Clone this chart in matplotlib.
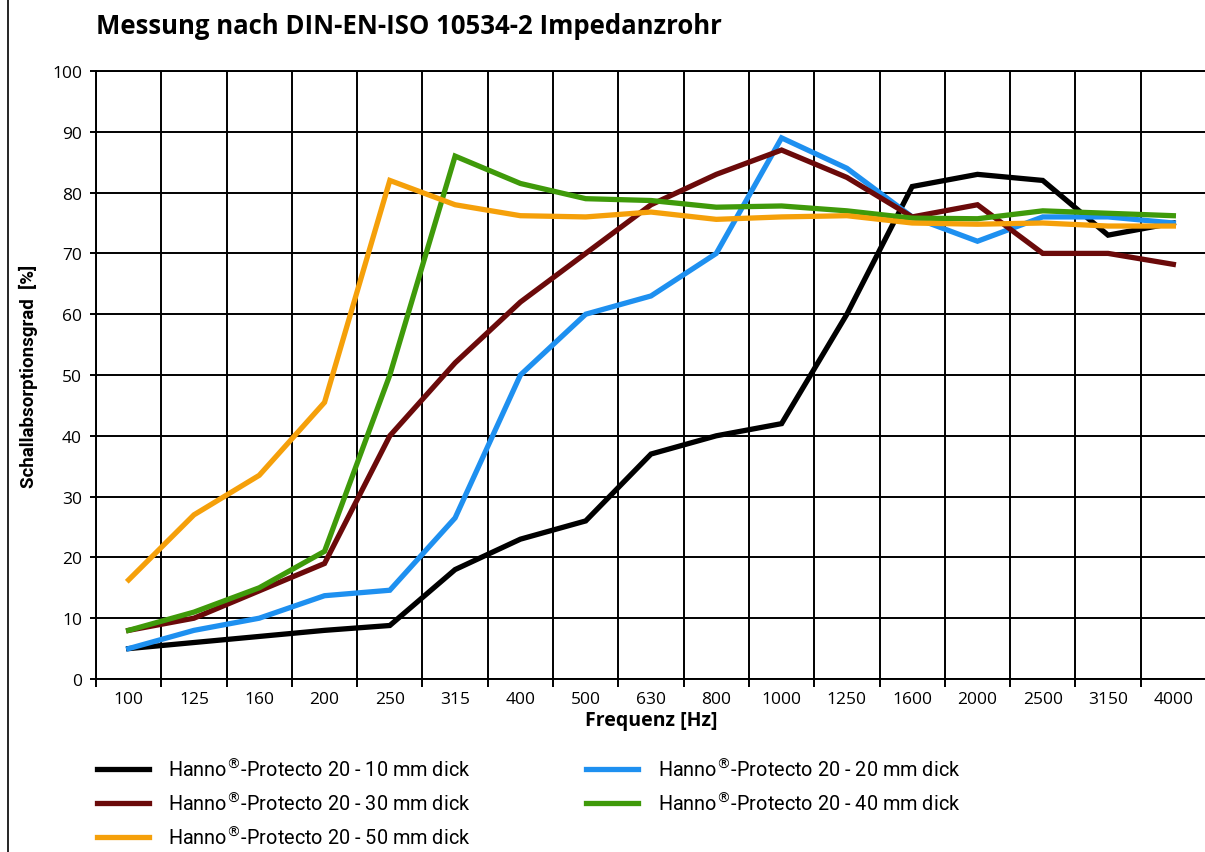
import matplotlib
matplotlib.use('Agg')
import matplotlib.pyplot as plt
from matplotlib.lines import Line2D

freqs = ['100', '125', '160', '200', '250', '315', '400', '500', '630',
         '800', '1000', '1250', '1600', '2000', '2500', '3150', '4000']

mm10 = [5, 6, 7, 8, 8.8, 18, 23, 26, 37, 40, 42, 60, 81, 83, 82, 73, 75]
mm20 = [5, 8, 10, 13.7, 14.6, 26.5, 50, 60, 63, 70, 89, 84, 76, 72, 76, 76, 75]
mm30 = [8, 10, 14.5, 19, 40, 52, 62, 70, 78, 83, 87, 82.5, 76, 78, 70, 70, 68.2]
mm40 = [8, 11, 15, 21, 50, 86, 81.5, 79, 78.7, 77.6, 77.8, 77, 75.8, 75.7, 77, 76.6, 76.2]
mm50 = [16.3, 27, 33.5, 45.5, 82, 78, 76.2, 76, 76.8, 75.6, 76, 76.2, 75, 74.8, 75, 74.5, 74.5]

series = [
    ('10', mm10, '#000000'),
    ('20', mm20, '#1e90f0'),
    ('30', mm30, '#6b0a0a'),
    ('40', mm40, '#3f9a0a'),
    ('50', mm50, '#f5a00a'),
]

tick_font = ['Open Sans', 'DejaVu Sans']
narrow_font = ['Roboto', 'DejaVu Sans']

fig = plt.figure(figsize=(12.05, 8.53), dpi=100)
ax = fig.add_axes([96 / 1205, 1 - 680 / 853, 1110 / 1205, 608 / 853])

x = list(range(len(freqs)))
handles = {}
for name, vals, col in series:
    ln, = ax.plot(x, vals, color=col, lw=3.8, solid_joinstyle='miter', zorder=3)
    handles[name] = ln

ax.set_xlim(-0.5, len(freqs) - 0.5)
ax.set_ylim(0, 100)
ax.set_yticks(range(0, 101, 10))
ax.set_xticks(x)
ax.set_xticklabels(freqs, fontfamily=tick_font, fontsize=12.5)
ax.set_xticks([i + 0.5 for i in range(-1, len(freqs))], minor=True)
ax.tick_params(axis='x', which='major', length=0, pad=9)
ax.tick_params(axis='x', which='minor', length=6, width=1.4, direction='out')
ax.tick_params(axis='y', length=4, width=1.4, pad=6, labelsize=12.5)
for lab in ax.get_yticklabels():
    lab.set_fontfamily(tick_font)

ax.grid(True, axis='y', which='major', color='black', lw=1.4, zorder=1)
ax.grid(True, axis='x', which='minor', color='black', lw=1.4, zorder=1)
for s in ax.spines.values():
    s.set_linewidth(1.4)

ax.set_xlabel('Frequenz [Hz]', fontfamily=tick_font, fontweight='bold', fontsize=14, labelpad=2)
ax.set_ylabel('Schallabsorptionsgrad  [%]', fontfamily=narrow_font, fontweight='bold',
              fontsize=13.5, labelpad=10)

fig.text(96 / 1205, 1 - 27 / 853, 'Messung nach DIN-EN-ISO 10534-2 Impedanzrohr',
         fontfamily=tick_font, fontweight='bold', fontsize=18.5, va='center', ha='left')

# left border line of the sheet
fig.add_artist(Line2D([8 / 1205, 8 / 1205], [0, 1], color='black', lw=1.2))

order = ['10', '30', '50', '20', '40']
labels = ['Hanno$^{®}$-Protecto 20 - %s mm dick' % k for k in order]
fig.legend([handles[k] for k in order], labels, ncol=2, loc='upper left',
           bbox_to_anchor=(83 / 1205, 1 - 745 / 853), frameon=False,
           prop={'family': narrow_font, 'size': 14.3}, handlelength=2.6,
           handletextpad=1.0, labelspacing=0.6, columnspacing=5.8,
           borderaxespad=0.3)

fig.savefig('out.png', dpi=100)
